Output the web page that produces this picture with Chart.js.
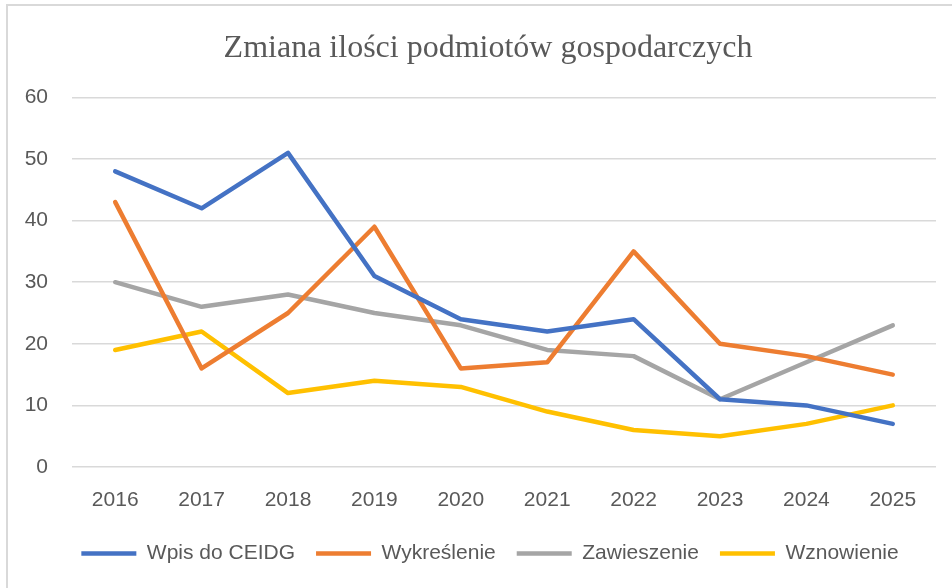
<!DOCTYPE html>
<html>
<head>
<meta charset="utf-8">
<script src="https://cdn.jsdelivr.net/npm/chart.js@4"></script>
<style>
    html, body { margin: 0; padding: 0; background: #ffffff; overflow: hidden; }
    #frame {
        position: absolute; left: 6px; top: 4px; width: 980px; height: 620px;
        border: 2px solid #d9d9d9; box-sizing: border-box;
    }
    #wrap { position: absolute; left: 0; top: 0; width: 952px; height: 588px; }
</style>
</head>
<body>
<div id="frame"></div>
<div id="wrap"><canvas id="chart" width="952" height="588"></canvas></div>
<script>
    // Years on the x axis
    const years = ["2016", "2017", "2018", "2019", "2020", "2021", "2022", "2023", "2024", "2025"];

    // Series values
    const wpisDoCeidg = [48, 42, 51, 31, 24, 22, 24, 11, 10, 7];
    const wykreslenie = [43, 16, 25, 39, 16, 17, 35, 20, 18, 15];
    const zawieszenie = [30, 26, 28, 25, 23, 19, 18, 11, 17, 23];
    const wznowienie = [19, 22, 12, 14, 13, 9, 6, 5, 7, 10];

    const seriesNames = ["Wpis do CEIDG", "Wykreślenie", "Zawieszenie", "Wznowienie"];
    const seriesColors = ["#4472C4", "#ED7D31", "#A5A5A5", "#FFC000"];

    const textColor = "#595959";
    const gridColor = "#d9d9d9";
    const sansFont = "'Liberation Sans', Arial, sans-serif";

    const makeSet = (i, values) => ({
        label: seriesNames[i],
        data: values,
        borderColor: seriesColors[i],
        backgroundColor: seriesColors[i],
        borderWidth: 4.5,
        borderCapStyle: "round",
        borderJoinStyle: "round",
        pointRadius: 0,
        pointHoverRadius: 0,
        pointStyle: "line",
        tension: 0,
        fill: false
    });

    // nudge title and legend to the right, like in the original
    const blockShift = {
        id: "blockShift",
        afterLayout(chart) {
            chart.legend.left += 22;
            chart.legend.right += 22;
            chart.titleBlock.left += 20;
            chart.titleBlock.right += 20;
        }
    };

    const ctx = document.getElementById("chart").getContext("2d");
    new Chart(ctx, {
        type: "line",
        data: {
            labels: years,
            datasets: [
                makeSet(0, wpisDoCeidg),
                makeSet(1, wykreslenie),
                makeSet(2, zawieszenie),
                makeSet(3, wznowienie)
            ]
        },
        plugins: [blockShift],
        options: {
            responsive: false,
            animation: false,
            layout: { padding: { left: 0, right: 16, top: 0, bottom: 14 } },
            plugins: {
                title: {
                    display: true,
                    text: "Zmiana ilości podmiotów gospodarczych",
                    color: textColor,
                    font: { family: "'Liberation Serif', 'Times New Roman', serif", size: 32, weight: "normal" },
                    padding: { top: 29, bottom: 30 }
                },
                legend: {
                    position: "bottom",
                    labels: {
                        color: textColor,
                        font: { family: sansFont, size: 21 },
                        usePointStyle: true,
                        pointStyleWidth: 55,
                        boxHeight: 21,
                        padding: 21
                    }
                },
                tooltip: { enabled: false }
            },
            scales: {
                x: {
                    offset: true,
                    afterFit: (scale) => { scale.height = 55; },
                    grid: { display: false, drawTicks: false },
                    border: { display: false },
                    ticks: {
                        color: textColor,
                        font: { family: sansFont, size: 21 },
                        padding: 21,
                        maxRotation: 0
                    }
                },
                y: {
                    min: 0,
                    max: 60,
                    afterFit: (scale) => { scale.width = 72; },
                    grid: { color: gridColor, lineWidth: 1.5, drawTicks: false },
                    border: { display: false },
                    ticks: {
                        stepSize: 10,
                        color: textColor,
                        font: { family: sansFont, size: 21 },
                        padding: 24
                    }
                }
            }
        }
    });
</script>
</body>
</html>
